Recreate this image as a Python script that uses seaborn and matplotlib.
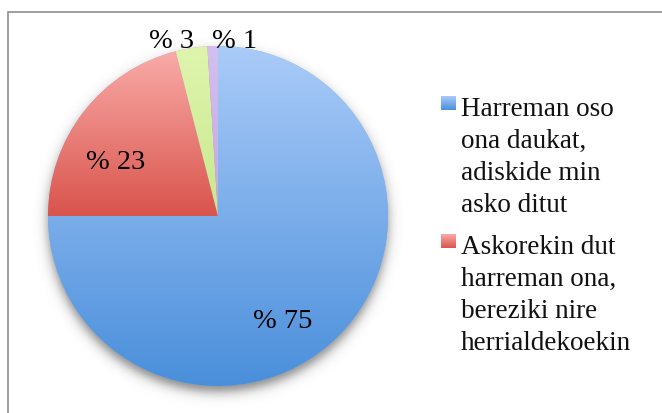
import numpy as np
import matplotlib
matplotlib.use("Agg")
import matplotlib.pyplot as plt
import seaborn as sns
from matplotlib.patches import Rectangle
from matplotlib.colors import LinearSegmentedColormap

sns.set_theme(style="white")
plt.rcParams['font.family'] = ['Liberation Serif', 'DejaVu Serif']

# ---- data ----
categories = ["Harreman oso\nona daukat,\nadiskide min\nasko ditut",
              "Askorekin dut\nharreman ona,\nbereziki nire\nherrialdekoekin",
              "Beste 1", "Beste 2"]
values = [75, 21, 3, 1]
value_labels = ["% 75", "% 23", "% 3", "% 1"]
legend_count = 2

# ---- style ----
light = ["#aacbf8", "#f9aba8", "#dff5ad", "#d2c1ee"]
dark = ["#4a8fdb", "#d9544c", "#c8e890", "#c2a8e4"]
label_pos = [(0.38, -0.615), (-0.605, 0.32), (-0.275, 1.035), (0.10, 1.035)]
legend_first_baseline = [116, 254]   # pixel rows
line_step = 32

W, H = 662, 414
fig = plt.figure(figsize=(W / 100, H / 100), dpi=100)
cx, cy, R = 218, 217, 170
ax = fig.add_axes([(cx - R) / W, (H - cy - R) / H, 2 * R / W, 2 * R / H])
ax.set_xlim(-1, 1)
ax.set_ylim(-1, 1)
ax.set_aspect("equal")
ax.axis("off")

# shadow
n = 500
xs = np.linspace(-1.3, 1.3, n)
X, Y = np.meshgrid(xs, xs)
r = np.hypot(X, Y + 0.035)
alpha = 0.6 / (1 + np.exp((r - 1.0) / 0.02))
shadow = np.zeros((n, n, 4))
shadow[..., :3] = 0.2
shadow[..., 3] = alpha
ax.imshow(shadow, extent=[-1.3, 1.3, -1.3, 1.3], origin="lower", zorder=0,
          interpolation="bilinear", clip_on=False)

wedges, _ = ax.pie(values, startangle=90, counterclock=False, radius=1,
                   colors=sns.blend_palette(["#7fb0ec", "#ee8580"], 4),
                   wedgeprops=dict(linewidth=0))

grad = np.linspace(0, 1, 256).reshape(-1, 1)
for w, lc, dc in zip(wedges, light, dark):
    th = np.radians(np.linspace(w.theta1, w.theta2, 200))
    ys = np.concatenate([np.sin(th), [0]])
    y0, y1 = ys.min(), ys.max()
    cmap = LinearSegmentedColormap.from_list("g", [dc, lc])
    im = ax.imshow(grad, extent=[-1, 1, y0, y1], origin="lower",
                   cmap=cmap, aspect="auto", zorder=2)
    im.set_clip_path(w)
ax.set_xlim(-1, 1)
ax.set_ylim(-1, 1)

for lab, (px, py) in zip(value_labels, label_pos):
    ax.text(px, py, lab, ha="center", va="center", fontsize=20.5,
            color="black", zorder=5, clip_on=False)

# legend (first entries only, as in the reference)
for i in range(legend_count):
    b = legend_first_baseline[i]
    sq = fig.add_axes([441 / W, 1 - (b - 5) / H, 14 / W, 14 / H])
    cmap = LinearSegmentedColormap.from_list("g", [dark[i], light[i]])
    sq.imshow(grad, cmap=cmap, aspect="auto", origin="lower",
              extent=[0, 1, 0, 1])
    sq.axis("off")
    for k, line in enumerate(categories[i].split("\n")):
        fig.text(461 / W, 1 - (b + k * line_step) / H, line, ha="left",
                 va="baseline", fontsize=19.5, color="#111111")

fig.patches.append(Rectangle((7.5 / W, -0.1), 2, 1 - 12.5 / H + 0.1,
                             transform=fig.transFigure, fill=False,
                             edgecolor="#8e8e8e", linewidth=1.2))
fig.savefig("out.png", dpi=100)
